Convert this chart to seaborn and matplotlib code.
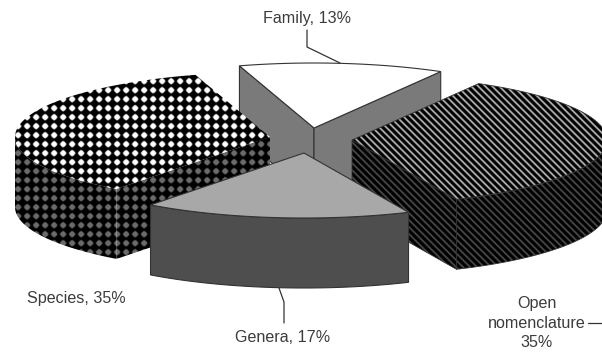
import numpy as np
import pandas as pd
import seaborn as sns
import matplotlib
matplotlib.use("Agg")
import matplotlib.pyplot as plt
from matplotlib.patches import Polygon

categories = ["Family", "Open nomenclature", "Genera", "Species"]
values = [13, 35, 17, 35]
label_texts = ["Family, 13%", "Open\nnomenclature\n35%", "Genera, 17%", "Species, 35%"]

sns.set_theme(style="white")
plt.rcParams['font.family'] = ['Liberation Sans', 'DejaVu Sans']

df = pd.DataFrame({"category": categories, "value": values, "label": label_texts})
df["sweep"] = df["value"] / df["value"].sum() * 360
START = -17
df["a0"] = START + df["sweep"].cumsum().shift(fill_value=0)
df["a1"] = df["a0"] + df["sweep"]

RX, RY, H = 255, 65, 70
tips = {"Family": (314, 128), "Open nomenclature": (352, 140), "Genera": (304, 153), "Species": (270, 137)}
top_col = {"Family": "#ffffff", "Genera": "#a8a8a8"}
wall_col = {"Family": "#7a7a7a", "Genera": "#4e4e4e"}

fig = plt.figure(figsize=(6.02, 3.53), dpi=100)
ax = fig.add_axes([0, 0, 1, 1])
ax.set_xlim(0, 602)
ax.set_ylim(353, 0)
ax.axis("off")

yy, xx = np.mgrid[0:353 * 3, 0:602 * 3] / 3.0


def dots(level):
    m = 0.5 * (np.cos(2 * np.pi * xx / 9.0) + np.cos(2 * np.pi * yy / 9.0))
    return np.clip((m - 0.05) * 3, 0, 1) * level


def stripes(level):
    m = np.cos((xx - yy) * 2 * np.pi / 7.0)
    return np.clip((m - 0.25) * 2.5, 0, 1) * level


def arc(cx, cy, a0, a1):
    t = np.radians(np.linspace(a0, a1, 80))
    return np.c_[cx + RX * np.sin(t), cy - RY * np.cos(t)]


def fill(poly, color=None, texture=None, z=1, edge=True):
    ec = "#333333" if edge else "none"
    if texture is None:
        ax.add_patch(Polygon(poly, closed=True, fc=color, ec=ec, lw=0.8, zorder=z))
    else:
        p = Polygon(poly, closed=True, fc="none", ec=ec, lw=0.6, zorder=z + 0.1)
        ax.add_patch(p)
        im = ax.imshow(texture, cmap="gray", vmin=0, vmax=1, extent=(0, 602, 353, 0),
                       zorder=z, interpolation="bilinear", aspect="auto")
        im.set_clip_path(p)


def wedge(row, z):
    name = row["category"]
    cx, cy = tips[name]
    a = arc(cx, cy, row["a0"], row["a1"])
    tip = np.array([[cx, cy]])
    lift = np.array([0, H])
    tx = {"Species": dots(1.0), "Open nomenclature": stripes(0.72)}.get(name)
    wx = {"Species": dots(0.42), "Open nomenclature": stripes(0.3)}.get(name)
    wc = wall_col.get(name)
    edge = name != "Species"
    # radial faces turned towards the viewer
    if np.sin(np.radians(row["a0"])) < 0:
        fill(np.vstack([tip, [a[0]], [a[0] + lift], tip + lift]), wc, wx, z, edge)
    if np.sin(np.radians(row["a1"])) > 0:
        fill(np.vstack([tip, [a[-1]], [a[-1] + lift], tip + lift]), wc, wx, z, edge)
    # outer wall (front-facing part only)
    ang = np.linspace(row["a0"], row["a1"], 160)
    vis = np.cos(np.radians(ang)) < 0
    if vis.any():
        o = arc(cx, cy, ang[vis][0], ang[vis][-1])
        fill(np.vstack([o, (o + lift)[::-1]]), wc, wx, z + 0.2, edge)
    fill(np.vstack([tip, a]), top_col.get(name), tx, z + 0.4, edge)


order = {"Family": 1, "Species": 2, "Open nomenclature": 3, "Genera": 4}
for _, row in df.iterrows():
    wedge(row, order[row["category"]])

txt = dict(fontsize=11.6, color="#3c3c3c", ha="center", va="center", zorder=10)
ax.text(307, 18, df.label[0], **txt)
ax.text(537, 323, df.label[1], linespacing=1.38, **txt)
ax.text(283, 337, df.label[2], **txt)
ax.text(76, 299, df.label[3], **txt)
ln = dict(color="#333333", lw=0.9, zorder=9)
ax.plot([307, 307, 340], [30, 47, 63], **ln)
ax.plot([279, 284, 284], [288, 302, 323], **ln)
ax.plot([588, 602], [323, 323], **ln)

fig.savefig("out.png", dpi=100)
